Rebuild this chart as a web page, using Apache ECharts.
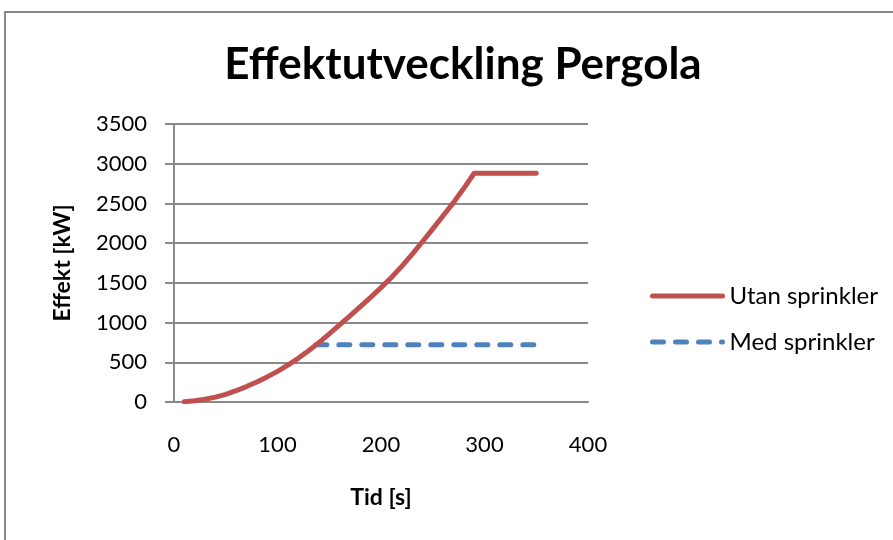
<!DOCTYPE html>
<html>
<head>
<meta charset="utf-8">
<script src="https://cdn.jsdelivr.net/npm/echarts@6/dist/echarts.min.js"></script>
<style>
    html, body { margin: 0; padding: 0; background: #fff; }
    #main { width: 893px; height: 540px; }
</style>
</head>
<body>
<div id="main"></div>
<script type="text/javascript">
    // tid [s] och effekt [kW]
    var tidUtan = [10, 20, 30, 40, 50, 60, 70, 80, 90, 100, 110, 120, 130, 140, 150, 160, 170, 180, 190, 200,
                   210, 220, 230, 240, 250, 260, 270, 280, 290, 350];
    var effektUtan = [3, 15, 35, 62, 97, 142, 194, 252, 316, 386, 464, 550, 645, 748, 858, 970, 1084, 1200, 1318, 1440,
                      1568, 1708, 1858, 2018, 2180, 2345, 2510, 2690, 2880, 2880];
    var tidMed = [137, 350];
    var effektMed = [720, 720];
    var serieNamn = ['Utan sprinkler', 'Med sprinkler'];

    function par(xs, ys) {
        var d = [];
        for (var i = 0; i < xs.length; i++) {
            d.push([xs[i], ys[i]]);
        }
        return d;
    }

    var font = 'Lato, "Open Sans", sans-serif';
    var myChart = echarts.init(document.getElementById('main'));
    var option = {
        animation: false,
        title: {
            text: 'Effektutveckling Pergola',
            left: 458,
            top: 38,
            textAlign: 'center',
            textStyle: { fontFamily: font, fontSize: 44, fontWeight: 'bold', color: '#000' }
        },
        graphic: [{
            type: 'rect',
            shape: { x: 5, y: 12, width: 900, height: 540 },
            style: { fill: null, stroke: '#888', lineWidth: 2 },
            silent: true
        }],
        legend: {
            orient: 'vertical',
            left: 645,
            top: 279,
            itemWidth: 70,
            itemHeight: 14,
            itemGap: 22,
            itemStyle: { opacity: 0 },
            lineStyle: { width: 5 },
            textStyle: { fontFamily: font, fontSize: 24, color: '#000', padding: [0, 0, 0, 2] },
            data: serieNamn
        },
        grid: {
            left: 174,
            right: 305,
            top: 124,
            bottom: 138,
            containLabel: false
        },
        xAxis: {
            type: 'value',
            min: 0,
            max: 400,
            interval: 100,
            name: 'Tid [s]',
            nameLocation: 'middle',
            nameGap: 84,
            nameTextStyle: { fontFamily: font, fontSize: 23, fontWeight: 'bold', color: '#000' },
            axisLine: { show: true, lineStyle: { color: '#898989', width: 2 } },
            axisTick: { show: false },
            splitLine: { show: false },
            axisLabel: { margin: 32, fontFamily: font, fontSize: 22, color: '#000' }
        },
        yAxis: {
            type: 'value',
            min: 0,
            max: 3500,
            interval: 500,
            name: 'Effekt [kW]',
            nameLocation: 'middle',
            nameGap: 100,
            nameTextStyle: { fontFamily: font, fontSize: 23, fontWeight: 'bold', color: '#000' },
            axisLine: { show: true, lineStyle: { color: '#898989', width: 2 } },
            axisTick: { show: true, inside: false, length: 9, lineStyle: { color: '#898989', width: 2 } },
            splitLine: { show: true, lineStyle: { color: '#898989', width: 2 } },
            axisLabel: {
                margin: 27, fontFamily: font, fontSize: 22, color: '#000',
                formatter: function (v) { return String(v); }
            }
        },
        series: [
            {
                name: serieNamn[0],
                type: 'line',
                showSymbol: false,
                symbol: 'none',
                data: par(tidUtan, effektUtan),
                lineStyle: { color: '#C0504D', width: 5, cap: 'round', join: 'round' },
                itemStyle: { color: '#C0504D' },
                z: 3
            },
            {
                name: serieNamn[1],
                type: 'line',
                showSymbol: false,
                symbol: 'none',
                data: par(tidMed, effektMed),
                lineStyle: { color: '#4F81BD', width: 5, type: [11, 12], cap: 'round' },
                itemStyle: { color: '#4F81BD' },
                z: 2
            }
        ]
    };
    myChart.setOption(option);
</script>
</body>
</html>
